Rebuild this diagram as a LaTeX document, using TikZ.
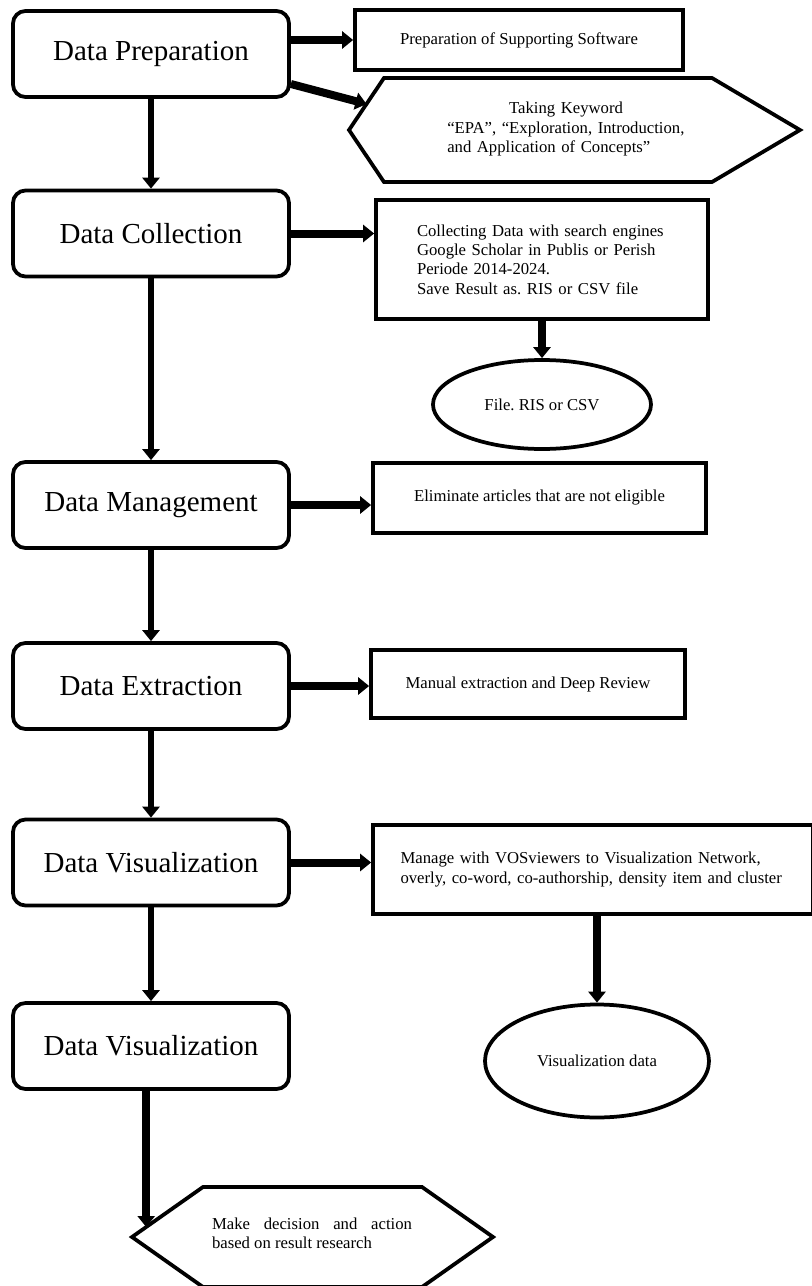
\documentclass[tikz,border=0pt]{standalone}
\usepackage{fontspec}
\setmainfont{Liberation Serif}
\frenchspacing
\usetikzlibrary{arrows.meta,shapes.geometric,calc}
\tikzset{stage/.style={draw, rounded corners=0.25cm, line width=0.075cm, minimum width=5.52cm, minimum height=1.72cm, font=\fontsize{16.5}{19}\selectfont}}
\tikzset{task/.style={draw, line width=0.075cm, align=center, font=\fontsize{9.5}{11}\selectfont}}
\tikzset{result/.style={draw, ellipse, line width=0.075cm, font=\fontsize{9.5}{11}\selectfont}}
\tikzset{outline/.style={line width=0.075cm, line join=miter}}
\tikzset{flow/.style={line width=0.16cm, -{Triangle[length=0.22cm,width=0.34cm]}}}
\tikzset{down/.style={flow, line width=0.12cm}}

\begin{document}
\begin{tikzpicture}
\useasboundingbox (0,0) rectangle (16.22,-25.72);
% stages
\node (prep) at (3.02,-1.08)[stage]{Data Preparation};
\node (coll) at (3.02,-4.67)[stage]{Data Collection};
\node (mgmt) at (3.02,-10.10)[stage]{Data Management};
\node (extr) at (3.02,-13.72)[stage]{Data Extraction};
\node (visa) at (3.02,-17.25)[stage]{Data Visualization};
\node (visb) at (3.02,-20.92)[stage]{Data Visualization};

% right side
\node (soft) at (10.38,-0.80)[task, minimum width=6.56cm, minimum height=1.20cm]{Preparation of Supporting Software};
\coordinate (kl) at (6.98,-2.60);
\coordinate (ktl) at (7.68,-1.56);
\coordinate (ktr) at (14.24,-1.56);
\coordinate (kr) at (16.00,-2.60);
\coordinate (kbr) at (14.24,-3.64);
\coordinate (kbl) at (7.68,-3.64);
\coordinate (kin) at ($(kl)!0.5!(ktl)$);
\draw[outline] (kl) -- (ktl) -- (ktr) -- (kr) -- (kbr) -- (kbl) -- cycle;
\node (keyw) at (11.32,-2.58)[text width=4.75cm, align=left, font=\fontsize{9.5}{11}\selectfont]{\hfill Taking Keyword\hfill\null\\“EPA”, “Exploration, Introduction,\\and Application of Concepts”};
\node (collect) at (10.84,-5.19)[task, text width=5.0cm, align=left, minimum width=6.64cm, minimum height=2.38cm]{Collecting Data with search engines\\Google Scholar in Publis or Perish\\Periode 2014-2024.\\Save Result as. RIS or CSV file};
\node (file) at (10.84,-8.09)[result, minimum width=4.36cm, minimum height=1.78cm]{File. RIS or CSV};
\node (elim) at (10.79,-9.96)[task, minimum width=6.66cm, minimum height=1.40cm]{Eliminate articles that are not eligible};
\node (manual) at (10.56,-13.68)[task, minimum width=6.28cm, minimum height=1.36cm]{Manual extraction and Deep Review};
\node (vosv) at (11.86,-17.39)[task, text width=7.7cm, align=left, minimum width=8.8cm, minimum height=1.78cm]{Manage with VOSviewers to Visualization Network,\\overly, co-word, co-authorship, density item and cluster};
\node (visdata) at (11.94,-21.22)[result, minimum width=4.48cm, minimum height=2.26cm]{Visualization data};

% decision
\coordinate (dl) at (2.64,-24.74);
\coordinate (dtl) at (4.06,-23.74);
\coordinate (dtr) at (8.44,-23.74);
\coordinate (dr) at (9.86,-24.74);
\coordinate (dbr) at (8.44,-25.74);
\coordinate (dbl) at (4.06,-25.74);
\coordinate (din) at ($(dl)!0.2!(dtl)$);
\draw[outline] (dl) -- (dtl) -- (dtr) -- (dr) -- (dbr) -- (dbl) -- cycle;
\node (decide) at (6.24,-24.66)[text width=4.0cm, align=justify, font=\fontsize{9.5}{11}\selectfont]{Make decision and action\linebreak based on result research};

\draw[flow] (prep.east |- soft.west) -- (soft.west);
\draw[flow] ([yshift=-0.6cm]prep.east) -- (kin);
\draw[down] (prep.south) -- (coll.north);
\draw[flow] (coll.east) -- (coll.east -| collect.west);
\draw[flow] (collect.south) -- (file.north);
\draw[down] (coll.south) -- (mgmt.north);
\draw[flow] (mgmt.east) -- (mgmt.east -| elim.west);
\draw[down] (mgmt.south) -- (extr.north);
\draw[flow] (extr.east) -- (extr.east -| manual.west);
\draw[down] (extr.south) -- (visa.north);
\draw[flow] (visa.east) -- (visa.east -| vosv.west);
\draw[flow] (vosv.south -| visdata.north) -- (visdata.north);
\draw[down] (visa.south) -- (visb.north);
\draw[flow] (visb.south -| din) -- (din);
\end{tikzpicture}
\end{document}
